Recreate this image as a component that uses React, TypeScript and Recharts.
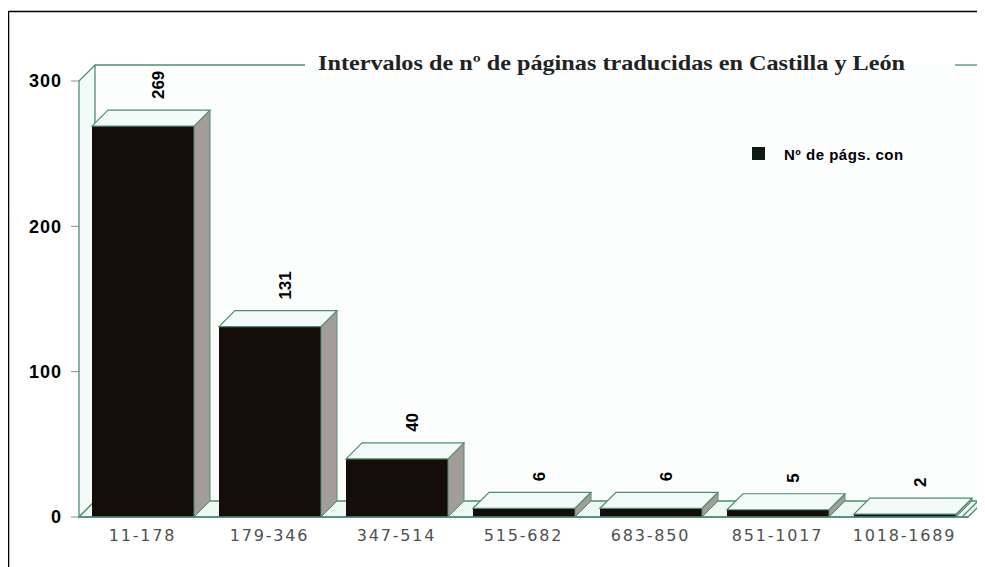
import { Bar, BarChart, Customized, LabelList, XAxis, YAxis } from "recharts";

// intervalos de nº de páginas
const categories = ["11-178", "179-346", "347-514", "515-682", "683-850", "851-1017", "1018-1689"];
const paginas = [269, 131, 40, 6, 6, 5, 2];
const yTicks = [0, 100, 200, 300];
const seriesName = "Nº de págs. con";
const title = "Intervalos de nº de páginas traducidas en Castilla y León";

const data = categories.map((c, i) => ({ name: c, value: paginas[i] }));

const W = 977;
const H = 559;
const D = 16; // profundidad 3D
const plot = { left: 71, top: 73, right: 960, bottom: 509 };

const green = "#4f8c73";
const front = "#140d0a";
const side = "#a39d97";
const topFace = "#f3fbf8";

function Bar3D(props: any) {
  const { x, y, width, height } = props;
  if (width == null || height == null) return null;
  return (
    <g>
      <rect x={x} y={y} width={width} height={height} fill={front} />
      <polygon
        points={`${x + width},${y} ${x + width + D},${y - D} ${x + width + D},${y + height - D} ${x + width},${y + height}`}
        fill={side}
        stroke={green}
        strokeWidth={1}
      />
      <polygon
        points={`${x},${y} ${x + D},${y - D} ${x + width + D},${y - D} ${x + width},${y}`}
        fill={topFace}
        stroke={green}
        strokeWidth={1.2}
      />
    </g>
  );
}

function ValueLabel(props: any) {
  const { x, y, width, value } = props;
  const cx = x + width / 2 + D;
  const cy = y - D - 11;
  return (
    <text
      x={cx}
      y={cy}
      transform={`rotate(-90 ${cx} ${cy})`}
      textAnchor="start"
      dominantBaseline="central"
      fontFamily="Liberation Sans, Arial, sans-serif"
      fontWeight="bold"
      fontSize={17}
      fill="#000"
    >
      {value}
    </text>
  );
}

function XTick(props: any) {
  const { x, y, payload } = props;
  return (
    <text
      x={x}
      y={y + 18}
      textAnchor="middle"
      dominantBaseline="central"
      fontFamily="DejaVu Sans, sans-serif"
      fontSize={16}
      letterSpacing={1.8}
      fill="#505050"
    >
      {payload.value}
    </text>
  );
}

function Background() {
  const { left, top, right, bottom } = plot;
  return (
    <g>
      <line x1={0} y1={3.5} x2={W} y2={3.5} stroke="#000" strokeWidth={1.5} />
      <line x1={0.5} y1={3} x2={0.5} y2={H} stroke="#000" strokeWidth={1.5} />
      <rect x={left + D} y={top - D} width={right - left} height={bottom - top} fill="#fcfefd" />
      <line x1={right + D} y1={top - D} x2={right + D} y2={bottom - D} stroke="#9fc9b8" strokeWidth={1.5} />
      <polygon
        points={`${left},${top} ${left + D},${top - D} ${left + D},${bottom - D} ${left},${bottom}`}
        fill={topFace}
        stroke={green}
        strokeWidth={1.3}
      />
      <polygon
        points={`${left},${bottom} ${left + D},${bottom - D} ${right + D},${bottom - D} ${right},${bottom}`}
        fill="#eef9f4"
        stroke={green}
        strokeWidth={1.3}
      />
      <line x1={right - 6} y1={bottom} x2={right + D - 6} y2={bottom - D} stroke={green} strokeWidth={1.3} />
      <line x1={left + D} y1={top - D} x2={297} y2={top - D} stroke={green} strokeWidth={1.3} />
      <line x1={947} y1={top - D} x2={right + D + 1} y2={top - D} stroke={green} strokeWidth={1.3} />
      <text
        x={603.5}
        y={62}
        textAnchor="middle"
        fontFamily="Liberation Serif, Times New Roman, serif"
        fontWeight="bold"
        fontSize={21}
        textLength={587}
        lengthAdjust="spacingAndGlyphs"
        fill="#222"
      >
        {title}
      </text>
      <rect x={744} y={139} width={13} height={13} fill="#0d1a12" />
      <text
        x={776}
        y={146}
        dominantBaseline="central"
        fontFamily="Liberation Sans, Arial, sans-serif"
        fontWeight="bold"
        fontSize={15}
        letterSpacing={0.5}
        fill="#000"
      >
        {seriesName}
      </text>
    </g>
  );
}

export default function App() {
  return (
    <BarChart
      width={W}
      height={H}
      data={data}
      margin={{ top: plot.top, right: W - plot.right, bottom: 0, left: 0 }}
      barSize={102}
    >
      <Customized component={<Background />} />
      <XAxis
        dataKey="name"
        axisLine={{ stroke: green, strokeWidth: 1.5 }}
        tickLine={false}
        tickSize={0}
        tickMargin={0}
        interval={0}
        height={H - plot.bottom}
        tick={<XTick />}
      />
      <YAxis
        width={plot.left}
        domain={[0, 300]}
        ticks={yTicks}
        axisLine={false}
        tickLine={{ stroke: "#8a8a8a" }}
        tickSize={8}
        tickMargin={9}
        tick={{ fontFamily: "Liberation Sans, Arial, sans-serif", fontWeight: "bold", fontSize: 18, fill: "#000", letterSpacing: 1 }}
      />
      <Bar dataKey="value" name={seriesName} shape={<Bar3D />} isAnimationActive={false}>
        <LabelList dataKey="value" content={<ValueLabel />} />
      </Bar>
    </BarChart>
  );
}
